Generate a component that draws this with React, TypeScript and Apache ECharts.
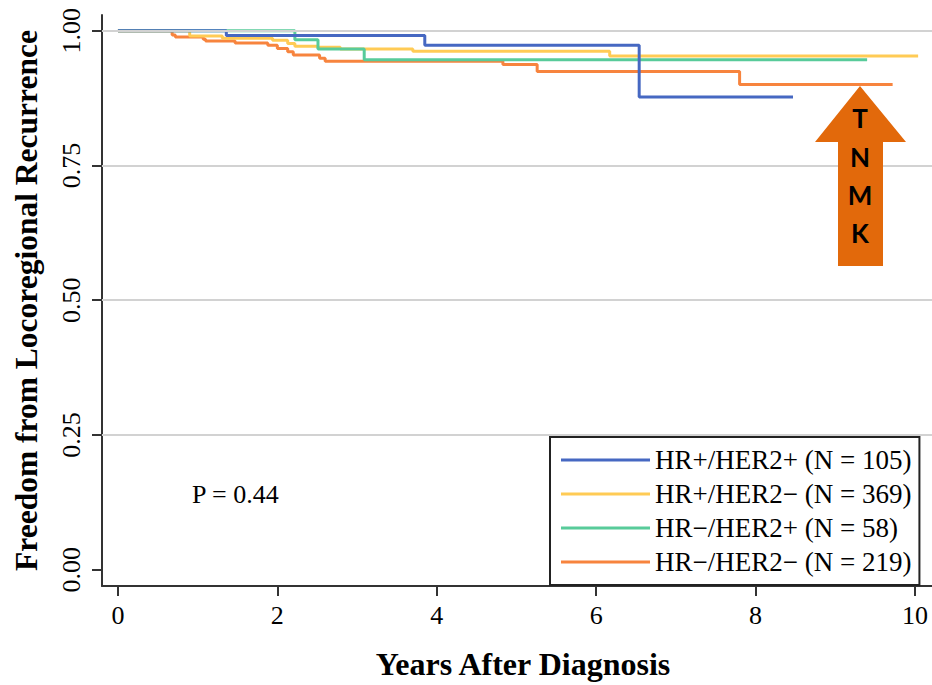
import React, { useEffect, useRef } from "react";
import * as echarts from "echarts";

// Kaplan-Meier step curves: time (years) and survival (freedom from LRR)
const blueT = [0, 1.36, 3.85, 6.54, 8.47];
const blueS = [1.0, 0.991, 0.973, 0.877, 0.877];

const yellowT = [0, 0.9, 1.31, 1.94, 2.13, 2.22, 2.5, 2.79, 3.7, 6.17, 10.04];
const yellowS = [1.0, 0.99, 0.986, 0.982, 0.976, 0.971, 0.969, 0.966, 0.962, 0.953, 0.953];

const greenT = [0, 2.22, 2.51, 3.09, 9.4];
const greenS = [1.0, 0.983, 0.966, 0.946, 0.946];

const orangeT = [0, 0.68, 0.72, 1.07, 1.1, 1.47, 1.88, 2.0, 2.13, 2.2, 2.53, 2.6, 4.83, 5.26, 7.8, 9.72];
const orangeS = [1.0, 0.992, 0.988, 0.984, 0.981, 0.977, 0.973, 0.967, 0.961, 0.955, 0.949, 0.943, 0.937, 0.924, 0.9, 0.9];

const seriesNames = [
  "HR+/HER2+ (N = 105)",
  "HR+/HER2\u2212 (N = 369)",
  "HR\u2212/HER2+ (N = 58)",
  "HR\u2212/HER2\u2212 (N = 219)",
];
const seriesColors = ["#4668C2", "#FFCB55", "#58CB9A", "#F7843E"];

const xTicks = [0, 2, 4, 6, 8, 10];
const yTicks = [0, 0.25, 0.5, 0.75, 1.0];
const gridVals = [0.25, 0.5, 0.75, 1.0];
const arrowLetters = ["T", "N", "M", "K"];
const pValueText = "P = 0.44";

const serif = "Liberation Serif";

function pairs(t: number[], s: number[]) {
  return t.map((v, i) => [v, s[i]]);
}

export default function App() {
  const ref = useRef<HTMLDivElement>(null);
  useEffect(() => {
    if (!ref.current) return;
    const chart = echarts.init(ref.current, null, { renderer: "svg" });
    const curves = [
      { name: seriesNames[3], color: seriesColors[3], data: pairs(orangeT, orangeS) },
      { name: seriesNames[1], color: seriesColors[1], data: pairs(yellowT, yellowS) },
      { name: seriesNames[2], color: seriesColors[2], data: pairs(greenT, greenS) },
      { name: seriesNames[0], color: seriesColors[0], data: pairs(blueT, blueS) },
    ];
    const letterY = [118, 157, 195, 233];
    chart.setOption({
      animation: false,
      backgroundColor: "#fff",
      textStyle: { fontFamily: serif },
      grid: { left: 102, top: 15, right: 0, bottom: 93, containLabel: false },
      xAxis: {
        type: "value",
        min: -0.2,
        max: 10.214,
        name: "Years After Diagnosis",
        nameLocation: "middle",
        nameGap: 62,
        nameTextStyle: {
          fontFamily: serif,
          fontWeight: "bold",
          fontSize: 32,
          color: "#000",
          padding: [0, 0, 0, 12],
        },
        axisLine: { onZero: false, lineStyle: { color: "#333", width: 2 } },
        axisTick: { customValues: xTicks, length: 10, lineStyle: { color: "#333", width: 2 } },
        axisLabel: {
          customValues: xTicks,
          fontFamily: serif,
          fontSize: 26,
          color: "#000",
          margin: 16,
        },
        splitLine: { show: false },
      },
      yAxis: {
        type: "value",
        min: -0.03,
        max: 1.029,
        name: "Freedom from Locoregional Recurrence",
        nameLocation: "middle",
        nameGap: 60,
        nameTextStyle: {
          fontFamily: serif,
          fontWeight: "bold",
          fontSize: 31.5,
          color: "#000",
        },
        axisLine: { onZero: false, lineStyle: { color: "#333", width: 2 } },
        axisTick: { customValues: yTicks, length: 10, lineStyle: { color: "#333", width: 2 } },
        axisLabel: {
          customValues: yTicks,
          rotate: 90,
          formatter: (v: number) => v.toFixed(2),
          fontFamily: serif,
          fontSize: 26,
          color: "#000",
          margin: 18,
        },
        splitLine: { show: false },
      },
      legend: {
        orient: "vertical",
        left: 550,
        top: 437,
        data: seriesNames,
        icon: "rect",
        itemWidth: 89,
        itemHeight: 3,
        itemGap: 4,
        itemTextGap: 19,
        padding: [8, 8, 8, 11],
        borderColor: "#222",
        borderWidth: 2,
        backgroundColor: "#fff",
        textStyle: { fontFamily: serif, fontSize: 27, color: "#000", lineHeight: 30 },
      },
      series: [
        {
          name: "gridlines",
          type: "line",
          data: [],
          z: 1,
          silent: true,
          markLine: {
            silent: true,
            symbol: ["none", "none"],
            label: { show: false },
            lineStyle: { color: "#d2d2d2", width: 2, type: "solid" },
            data: gridVals.map((v) => ({ yAxis: v })),
          },
        },
        ...curves.map((c) => ({
          name: c.name,
          type: "line",
          step: "end",
          data: c.data,
          showSymbol: false,
          symbol: "none",
          color: c.color,
          lineStyle: { color: c.color, width: 3 },
          z: 3,
        })),
      ],
      graphic: [
        {
          type: "text",
          x: 192,
          y: 494,
          style: {
            text: pValueText,
            fontFamily: serif,
            fontSize: 26,
            fill: "#000",
            textAlign: "left",
            textVerticalAlign: "middle",
            align: "left",
            verticalAlign: "middle",
          },
          z: 10,
        },
        {
          type: "polygon",
          shape: {
            points: [
              [860, 86],
              [906, 142],
              [883, 142],
              [883, 266],
              [838, 266],
              [838, 142],
              [815, 142],
            ],
          },
          style: { fill: "#E2690B" },
          z: 10,
        },
        ...arrowLetters.map((l, i) => ({
          type: "text",
          x: 860,
          y: letterY[i],
          style: {
            text: l,
            fontFamily: "Lato",
            fontWeight: "bold",
            fontSize: 26,
            fill: "#000",
            textAlign: "center",
            textVerticalAlign: "middle",
            align: "center",
            verticalAlign: "middle",
          },
          z: 11,
        })),
      ],
    });
    return () => chart.dispose();
  }, []);
  return (
    <div
      ref={ref}
      style={{ position: "fixed", left: 0, top: 0, width: 932, height: 685 }}
    />
  );
}
